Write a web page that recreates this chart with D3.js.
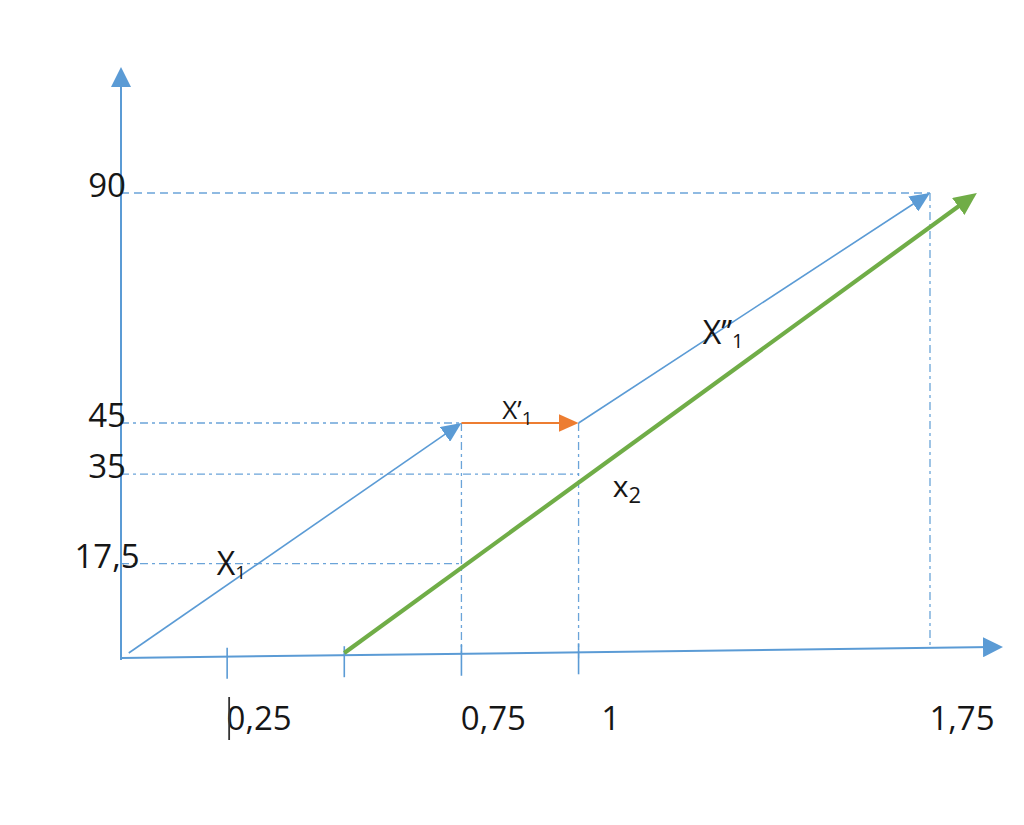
<!DOCTYPE html>
<html>
<head>
<meta charset="utf-8">
<script src="https://cdn.jsdelivr.net/npm/d3@7"></script>
<style>
  html, body { margin: 0; padding: 0; background: #ffffff; }
  svg { display: block; }
  text { font-family: "Open Sans", Lato, sans-serif; fill: #161616; }
</style>
</head>
<body>
<svg id="chart" width="1024" height="825"></svg>
<script>
// ---------------- DATA ----------------
// y-axis reference values and their labels
const yTickValues = [90, 45, 35, 17.5];
const yTickLabels = ["90", "45", "35", "17,5"];

// x-axis tick marks and the labelled values
const xTickValues = [0.25, 0.5, 0.75, 1];
const xLabelValues = [0.25, 0.75, 1, 1.75];
const xLabelTexts = ["0,25", "0,75", "1", "1,75"];

// vectors (start -> end)
const vecNames  = ["X1", "X'1", "X''1", "x2"];
const vecStartX = [0.04, 0.75, 1, 0.5];
const vecStartY = [0, 45, 45, 0];
const vecEndX   = [0.75, 1, 1.75, 1.85];
const vecEndY   = [45, 45, 90, 90];

// horizontal guides: value and how far right they go (x value)
const hGuideY    = [90, 45, 35, 17.5];
const hGuideEndX = [1.75, 0.75, 1, 0.75];

// vertical guides: x value and top (y value)
const vGuideX    = [0.75, 1, 1.75];
const vGuideTopY = [45, 45, 90];

// vector annotation texts (main, prime marks, subscript) and anchor in data units
const annMain  = ["X", "X", "X", "x"];
const annPrime = ["", "\u2019", "\u2019\u2019", ""];
const annSub   = ["1", "1", "1", "2"];
const annX     = [0.228, 0.837, 1.265, 1.073];
const annY     = [15.3, 45.8, 60.5, 30.5];

// ---------------- LAYOUT / STYLE ----------------
const svg = d3.select("#chart");
const BLUE = "#5b9bd5", GREEN = "#70ad47", ORANGE = "#ed7d31";
const vecColors = [BLUE, ORANGE, BLUE, GREEN];
const vecWidths = [1.6, 2, 1.6, 4.2];
const vecHead   = [[20, 18], [20, 18], [20, 18], [23, 21]];
const annSize   = [32, 26, 32, 30];
const annSubSize = [19, 19, 20, 22];
const annSubDy  = [4, 6, 4, 6];

const x = d3.scaleLinear().domain([0, 1.75]).range([110, 930]);
const y = d3.scaleLinear().domain([0, 90]).range([653, 193]);

const axisX = 121;                       // y-axis position
const xAxisStart = [axisX, 658], xAxisEnd = [1003, 647];
const axisYAt = px => xAxisStart[1] + (px - xAxisStart[0]) * (xAxisEnd[1] - xAxisStart[1]) / (xAxisEnd[0] - xAxisStart[0]);

// ---------- markers ----------
const defs = svg.append("defs");
function makeMarker(id, color, len, wid) {
  defs.append("marker")
    .attr("id", id)
    .attr("markerUnits", "userSpaceOnUse")
    .attr("viewBox", `0 0 ${len} ${wid}`)
    .attr("refX", len / 2).attr("refY", wid / 2)
    .attr("markerWidth", len).attr("markerHeight", wid)
    .attr("orient", "auto")
    .append("path")
    .attr("d", `M0,0 L${len},${wid / 2} L0,${wid} Z`)
    .attr("fill", color);
}
makeMarker("axisHead", BLUE, 20, 20);
vecNames.forEach((n, i) => makeMarker("vh" + i, vecColors[i], vecHead[i][0], vecHead[i][1]));

// helper to draw a line ending with an arrow whose tip is exactly at (x2,y2)
function arrowLine(g, x1, y1, x2, y2, len, color, width, markerId) {
  const dx = x2 - x1, dy = y2 - y1, L = Math.hypot(dx, dy);
  const ex = x2 - dx / L * len / 2, ey = y2 - dy / L * len / 2;
  g.append("line")
    .attr("x1", x1).attr("y1", y1).attr("x2", ex).attr("y2", ey)
    .attr("stroke", color).attr("stroke-width", width)
    .attr("marker-end", `url(#${markerId})`);
}

// ---------- guides ----------
const guides = svg.append("g");
hGuideY.forEach((v, i) => {
  guides.append("line")
    .attr("x1", axisX).attr("x2", x(hGuideEndX[i]))
    .attr("y1", y(v)).attr("y2", y(v))
    .attr("stroke", BLUE).attr("stroke-width", 1.3)
    .attr("stroke-dasharray", v === 90 ? "8,5" : "8,4,3,4")
    .attr("opacity", 0.9);
});
vGuideX.forEach((v, i) => {
  const px = x(v);
  guides.append("line")
    .attr("x1", px).attr("x2", px)
    .attr("y1", y(vGuideTopY[i])).attr("y2", axisYAt(px) + (v === 1 ? 6 : 0))
    .attr("stroke", BLUE).attr("stroke-width", 1.3)
    .attr("stroke-dasharray", "8,4,3,4")
    .attr("opacity", 0.9);
});

// ---------- axes ----------
const axes = svg.append("g");
arrowLine(axes, axisX, 660, axisX, 67, 20, BLUE, 2, "axisHead");
arrowLine(axes, xAxisStart[0], xAxisStart[1], xAxisEnd[0], xAxisEnd[1], 20, BLUE, 2, "axisHead");

xTickValues.forEach(v => {
  const px = x(v), ay = axisYAt(px);
  axes.append("line")
    .attr("x1", px).attr("x2", px)
    .attr("y1", ay - 9).attr("y2", ay + 22)
    .attr("stroke", BLUE).attr("stroke-width", 1.6);
});

// tick labels
const labels = svg.append("g");
yTickValues.forEach((v, i) => {
  labels.append("text")
    .attr("x", 107).attr("y", y(v) + 4)
    .attr("text-anchor", "middle")
    .attr("font-size", 33)
    .text(yTickLabels[i]);
});
xLabelValues.forEach((v, i) => {
  labels.append("text")
    .attr("x", x(v) + 32).attr("y", 730)
    .attr("text-anchor", "middle")
    .attr("font-size", 33)
    .text(xLabelTexts[i]);
});
// text cursor mark left of the first label
labels.append("line")
  .attr("x1", x(0.25) + 2).attr("x2", x(0.25) + 2)
  .attr("y1", 697).attr("y2", 740)
  .attr("stroke", "#333").attr("stroke-width", 1.8);

// ---------- vectors ----------
const vecs = svg.append("g");
vecNames.forEach((n, i) => {
  arrowLine(vecs, x(vecStartX[i]), y(vecStartY[i]), x(vecEndX[i]), y(vecEndY[i]),
            vecHead[i][0], vecColors[i], vecWidths[i], "vh" + i);
});

// ---------- vector annotations ----------
vecNames.forEach((n, i) => {
  const t = svg.append("text")
    .attr("x", x(annX[i])).attr("y", y(annY[i]))
    .attr("font-size", annSize[i]);
  t.append("tspan").text(annMain[i] + annPrime[i]);
  t.append("tspan")
    .attr("font-size", annSubSize[i])
    .attr("dy", annSubDy[i])
    .text(annSub[i]);
});
</script>
</body>
</html>
